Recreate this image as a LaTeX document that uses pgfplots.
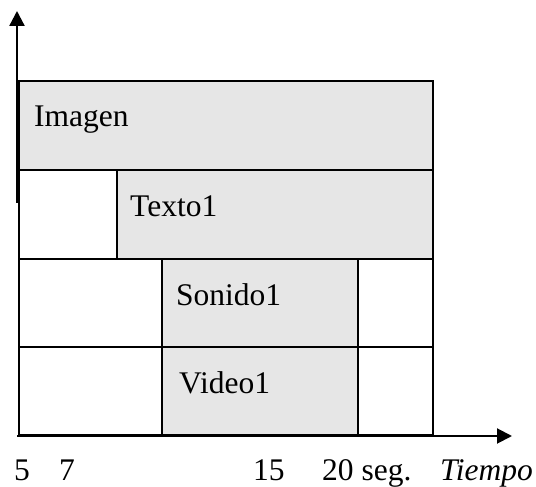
\documentclass[border=0pt]{standalone}
\usepackage{pgfplots}
\pgfplotsset{compat=1.18}
\usepackage{fontspec}
\setmainfont{Liberation Serif}
\usetikzlibrary{arrows.meta}
\definecolor{boxgray}{HTML}{E6E6E6}
\tikzset{lbl/.style={anchor=base west, inner sep=0pt, font=\fontsize{31.5}{36}\selectfont}}
\begin{document}
\begin{tikzpicture}
\begin{axis}[
  width=536pt, height=487pt, scale only axis,
  xmin=0, xmax=536, ymin=0, ymax=487,
  axis lines=none, clip=false,
]
\addplot[draw=none, forget plot] coordinates {(0,0) (536,487)};
% Imagen row
\addplot[draw=black, line width=1.5pt, fill=boxgray] coordinates {(19,317) (433,317) (433,406) (19,406)} -- cycle;
% Texto1 row
\addplot[draw=black, line width=1.5pt, fill=white] coordinates {(19,228) (117,228) (117,317) (19,317)} -- cycle;
\addplot[draw=black, line width=1.5pt, fill=boxgray] coordinates {(117,228) (433,228) (433,317) (117,317)} -- cycle;
% Sonido1 row
\addplot[draw=black, line width=1.5pt, fill=white] coordinates {(19,140) (162,140) (162,228) (19,228)} -- cycle;
\addplot[draw=black, line width=1.5pt, fill=boxgray] coordinates {(162,140) (358,140) (358,228) (162,228)} -- cycle;
\addplot[draw=black, line width=1.5pt, fill=white] coordinates {(358,140) (433,140) (433,228) (358,228)} -- cycle;
% Video1 row
\addplot[draw=black, line width=1.5pt, fill=white] coordinates {(19,52) (162,52) (162,140) (19,140)} -- cycle;
\addplot[draw=black, line width=1.5pt, fill=boxgray] coordinates {(162,52) (358,52) (358,140) (162,140)} -- cycle;
\addplot[draw=black, line width=1.5pt, fill=white] coordinates {(358,52) (433,52) (433,140) (358,140)} -- cycle;
% axes arrows
\addplot[draw=black, line width=2pt, -{Triangle[length=15pt,width=15pt]}] coordinates {(17,51) (512,51)};
\addplot[draw=black, line width=2.3pt, -{Triangle[length=15pt,width=15pt]}] coordinates {(17,284) (17,476)};
% labels
\node[lbl] at (axis cs:34,360) {Imagen};
\node[lbl] at (axis cs:130,270) {Texto1};
\node[lbl] at (axis cs:176,181) {Sonido1};
\node[lbl] at (axis cs:179,93) {Video1};
\node[lbl, overlay] at (axis cs:14,6) {5};
\node[lbl, overlay] at (axis cs:59,6) {7};
\node[lbl, overlay] at (axis cs:253,6) {15};
\node[lbl, overlay] at (axis cs:322,6) {20 seg.};
\node[lbl, overlay, font=\fontsize{31.5}{36}\selectfont\itshape] at (axis cs:440,6) {Tiempo};
\end{axis}
\end{tikzpicture}
\end{document}
